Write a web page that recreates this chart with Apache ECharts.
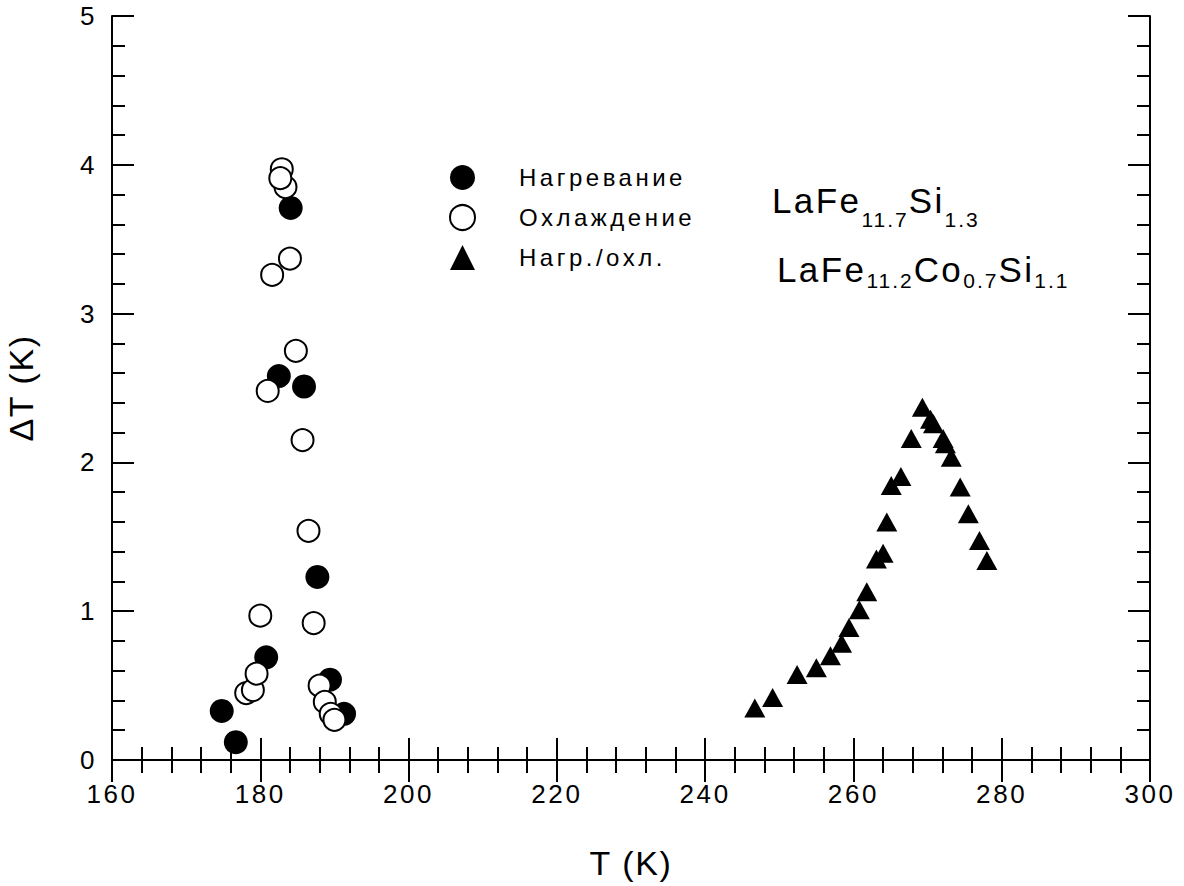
<!DOCTYPE html>
<html>
<head>
<meta charset="utf-8">
<title>ΔT (K)</title>
<script src="https://cdn.jsdelivr.net/npm/echarts@6/dist/echarts.min.js"></script>
<style>
  html, body { margin: 0; padding: 0; background: #fff; }
  #chart { width: 1184px; height: 886px; }
</style>
</head>
<body>
<div id="chart"></div>
<script>
// values, T in K, dT in K
const heatT = [174.8, 176.7, 180.8, 182.5, 184.1, 185.9, 187.7, 189.4, 191.3]
const heatDT = [0.33, 0.12, 0.69, 2.58, 3.71, 2.51, 1.23, 0.54, 0.31]

const coolT = [178.1, 179.0, 179.5, 180.0, 181.0, 181.6, 182.9, 183.4, 182.7, 184.0, 184.8, 185.7, 186.5, 187.2, 188.0, 188.7, 189.5, 190.0]
const coolDT = [0.45, 0.47, 0.58, 0.97, 2.48, 3.26, 3.97, 3.85, 3.91, 3.37, 2.75, 2.15, 1.54, 0.92, 0.50, 0.39, 0.31, 0.27]

const triT = [246.7, 249.1, 252.4, 255.0, 256.9, 258.4, 259.4, 260.8, 261.8, 263.1, 264.0, 264.5, 265.1, 266.4, 267.8, 269.3, 270.4, 270.8, 272.1, 272.4, 273.2, 274.4, 275.5, 277.0, 278.0]
const triDT = [0.35, 0.42, 0.575, 0.62, 0.70, 0.785, 0.89, 1.01, 1.13, 1.35, 1.39, 1.60, 1.845, 1.905, 2.16, 2.37, 2.29, 2.26, 2.16, 2.125, 2.035, 1.835, 1.655, 1.475, 1.34]

const seriesNames = ['Нагревание', 'Охлаждение', 'Нагр./охл.']

const FONT = 'Liberation Sans'
// the original text is letter spaced, px per font size
const spacing = { 21: 2, 24: 3.5, 26: 2.6, 34: 1.6, 35: 2.4 }

let css = ''
Object.keys(spacing).forEach((s) => {
  css += '#chart text[style*="' + s + 'px"]{letter-spacing:' + spacing[s] + 'px}\n'
})
const st = document.createElement('style')
st.textContent = css
document.head.appendChild(st)

// let echarts measure the spaced text so rich text pieces line up
const mctx = document.createElement('canvas').getContext('2d')
if (echarts.setPlatformAPI) {
  echarts.setPlatformAPI({
    measureText (text, font) {
      mctx.font = font || '12px sans-serif'
      let w = mctx.measureText(text).width
      const m = /(\d+)px/.exec(font || '')
      if (m && spacing[m[1]] && text !== '国') w += text.length * spacing[m[1]]
      return { width: w }
    }
  })
}

const pairs = (xs, ys) => xs.map((x, i) => [x, ys[i]])

const axisCommon = {
  axisLine: { lineStyle: { color: '#000', width: 2 } },
  axisTick: { inside: true, length: 22, lineStyle: { color: '#000', width: 2 } },
  minorTick: { show: true, splitNumber: 5, length: 13, lineStyle: { color: '#000', width: 2 } },
  splitLine: { show: false },
  minorSplitLine: { show: false }
}

const chart = echarts.init(document.getElementById('chart'), null, { renderer: 'svg' })

const option = {
  backgroundColor: '#fff',
  animation: false,
  grid: { left: 112, top: 16, width: 1038, height: 744, outerBoundsMode: 'none' },
  xAxis: [
    {
      type: 'value',
      position: 'bottom',
      min: 160,
      max: 300,
      interval: 20,
      name: 'T (K)',
      nameLocation: 'middle',
      nameGap: 86,
      nameTextStyle: { fontSize: 34, color: '#000', fontFamily: FONT },
      axisLabel: { fontSize: 26, color: '#000', fontFamily: FONT, margin: 21 },
      ...axisCommon
    },
    {
      type: 'value',
      position: 'top',
      min: 160,
      max: 300,
      interval: 20,
      axisLabel: { show: false },
      ...axisCommon
    }
  ],
  yAxis: [
    {
      type: 'value',
      position: 'left',
      min: 0,
      max: 5,
      interval: 1,
      name: 'ΔT (K)',
      nameLocation: 'middle',
      nameGap: 74,
      nameTextStyle: { fontSize: 34, color: '#000', fontFamily: FONT },
      axisLabel: { fontSize: 26, color: '#000', fontFamily: FONT, margin: 15 },
      ...axisCommon
    },
    {
      type: 'value',
      position: 'right',
      min: 0,
      max: 5,
      interval: 1,
      axisLabel: { show: false },
      ...axisCommon
    }
  ],
  legend: {
    orient: 'vertical',
    left: 444,
    top: 160,
    itemWidth: 25,
    itemHeight: 25,
    itemGap: 14,
    selectedMode: false,
    textStyle: { fontSize: 24, color: '#000', fontFamily: FONT, padding: [0, 0, 0, 39] },
    data: [
      { name: seriesNames[0], itemStyle: { color: '#000' } },
      { name: seriesNames[1], itemStyle: { color: '#fff', borderColor: '#000', borderWidth: 2 } },
      { name: seriesNames[2], itemStyle: { color: '#000' } }
    ]
  },
  graphic: [
    {
      type: 'text',
      x: 772,
      y: 170,
      style: {
        text: '{m|LaFe}{s|11.7}{m|Si}{s|1.3}',
        align: 'left',
        verticalAlign: 'top',
        rich: {
          m: { fontSize: 35, fontFamily: FONT, lineHeight: 60, fill: '#000' },
          s: { fontSize: 21, fontFamily: FONT, verticalAlign: 'bottom', fill: '#000' }
        }
      }
    },
    {
      type: 'text',
      x: 777,
      y: 247,
      style: {
        text: '{m|LaFe}{s|11.2}{m|Co}{s|0.7}{m|Si}{s|1.1}',
        align: 'left',
        verticalAlign: 'top',
        rich: {
          m: { fontSize: 35, fontFamily: FONT, lineHeight: 44, fill: '#000' },
          s: { fontSize: 21, fontFamily: FONT, verticalAlign: 'bottom', fill: '#000' }
        }
      }
    }
  ],
  series: [
    {
      name: seriesNames[0],
      type: 'scatter',
      symbol: 'circle',
      symbolSize: 24,
      data: pairs(heatT, heatDT),
      itemStyle: { color: '#000', opacity: 1 },
      emphasis: { disabled: true }
    },
    {
      name: seriesNames[1],
      type: 'scatter',
      symbol: 'circle',
      symbolSize: 22,
      data: pairs(coolT, coolDT),
      itemStyle: { color: '#fff', borderColor: '#000', borderWidth: 2, opacity: 1 },
      emphasis: { disabled: true }
    },
    {
      name: seriesNames[2],
      type: 'scatter',
      symbol: 'triangle',
      symbolSize: [21, 19],
      data: pairs(triT, triDT),
      itemStyle: { color: '#000', opacity: 1 },
      emphasis: { disabled: true }
    }
  ]
}

chart.setOption(option)
</script>
</body>
</html>
